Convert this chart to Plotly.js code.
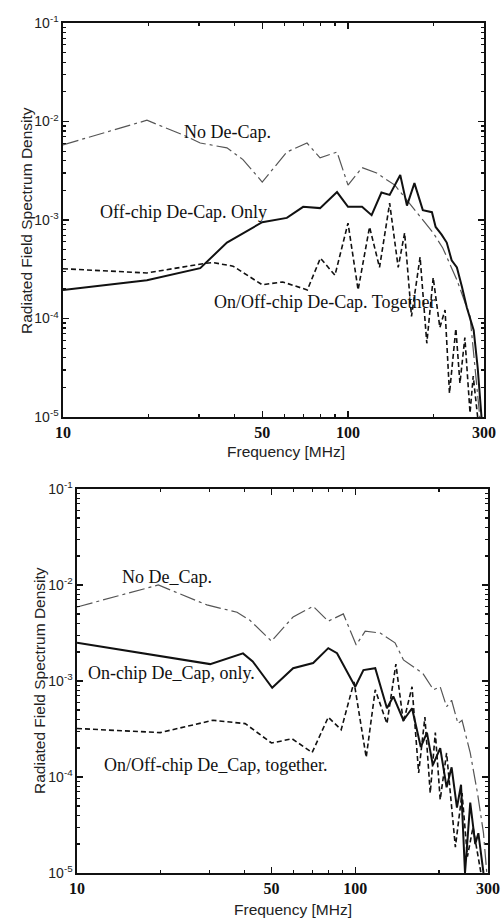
<!DOCTYPE html>
<html>
<head>
<meta charset="utf-8">
<script src="https://cdn.plot.ly/plotly-3.0.1.min.js"></script>
<style>
  html, body { margin: 0; padding: 0; background: #fff; }
  #chart { width: 502px; height: 920px; }
</style>
</head>
<body>
<div id="chart"></div>
<script>
// ---------- Top panel (Off-chip decap comparison) ----------
const topNoFreq  = [10, 19.7, 26.4, 30.3, 37.6, 42.8, 50, 61, 71.8, 79.8, 91.5, 100, 112, 126, 146, 175, 199, 215, 241, 268, 290];
const topNoVal   = [5.8e-3, 1.03e-2, 7.3e-3, 6.05e-3, 5.4e-3, 4.1e-3, 2.43e-3, 4.9e-3, 6.05e-3, 4.27e-3, 4.9e-3, 2.26e-3, 3.4e-3, 3.0e-3, 2.26e-3, 1.17e-3, 7.4e-4, 5.2e-4, 2.46e-4, 1.05e-4, 1e-5];

const topOffFreq = [10, 19.7, 30.3, 37.6, 50, 61, 69.6, 79.8, 91.5, 100, 112, 121, 131, 140, 152.5, 161, 171, 183, 197, 203, 213, 222, 231, 241, 251, 261, 276, 285, 294];
const topOffVal  = [1.95e-4, 2.45e-4, 3.24e-4, 5.9e-4, 9.5e-4, 1.05e-3, 1.36e-3, 1.32e-3, 1.92e-3, 1.36e-3, 1.36e-3, 1.12e-3, 1.9e-3, 1.8e-3, 2.86e-3, 1.4e-3, 2.37e-3, 1.26e-3, 1.2e-3, 8.5e-4, 7.1e-4, 5.9e-4, 3.9e-4, 3.3e-4, 2.1e-4, 1.3e-4, 7.6e-5, 3.2e-5, 1e-5];

const topBothFreq = [10, 19.7, 31, 33.5, 39.5, 50, 59, 72, 80, 90, 100, 108.5, 119, 129, 140, 150, 158, 167, 179, 189, 199, 210, 219, 227, 239, 247, 257, 268, 275, 285];
const topBothVal  = [3.2e-4, 2.9e-4, 3.6e-4, 3.7e-4, 3.4e-4, 2.2e-4, 2.35e-4, 1.95e-4, 4.1e-4, 2.75e-4, 9.3e-4, 1.95e-4, 8.5e-4, 3.3e-4, 1.48e-3, 3.3e-4, 7.4e-4, 1.05e-4, 4.2e-4, 5.6e-5, 2.6e-4, 8.1e-5, 1.22e-4, 1.74e-5, 7.9e-5, 2.2e-5, 6.4e-5, 1.1e-5, 2.6e-5, 1e-5];

// ---------- Bottom panel (On-chip decap comparison) ----------
const botNoFreq  = [10, 19.6, 29.3, 37.6, 41.8, 50, 59.8, 70.6, 80, 90.6, 100.8, 108.6, 123, 139, 149, 175, 191, 202, 213, 222, 234, 242, 259, 275, 289, 297];
const botNoVal   = [5.9e-3, 1.0e-2, 6.2e-3, 5.2e-3, 4.3e-3, 2.6e-3, 4.65e-3, 6.0e-3, 4.2e-3, 5.0e-3, 2.37e-3, 3.3e-3, 3.16e-3, 2.5e-3, 1.66e-3, 1.2e-3, 8.1e-4, 8.7e-4, 5.4e-4, 6.3e-4, 3.6e-4, 3.9e-4, 1.78e-4, 6.8e-5, 2.6e-5, 1e-5];

const botOnFreq  = [10, 30.1, 39.5, 42.8, 50.3, 59.8, 70.6, 80, 86, 100, 107, 118, 130, 137, 149, 160, 172, 181, 190, 202, 213, 222, 232, 240, 248, 259, 270, 277, 289];
const botOnVal   = [2.5e-3, 1.5e-3, 1.94e-3, 1.6e-3, 8.5e-4, 1.36e-3, 1.54e-3, 2.2e-3, 1.95e-3, 8.7e-4, 1.3e-3, 1.36e-3, 5.2e-4, 6.9e-4, 3.9e-4, 5.2e-4, 2.05e-4, 2.9e-4, 1.33e-4, 2.0e-4, 7.8e-5, 1.26e-4, 4.8e-5, 8.3e-5, 1e-5, 5.4e-5, 2.0e-5, 2.6e-5, 1e-5];

const botBothFreq = [10, 19.9, 30.8, 40.2, 50, 59.3, 70, 80, 89, 99, 109.5, 118, 130, 140, 149, 160, 169, 178, 186, 194, 202, 213, 229, 242, 253, 265, 283];
const botBothVal  = [3.2e-4, 2.9e-4, 3.9e-4, 3.6e-4, 2.26e-4, 2.5e-4, 1.8e-4, 4.2e-4, 3.1e-4, 9.8e-4, 1.6e-4, 8.1e-4, 3.6e-4, 1.5e-3, 3.7e-4, 8.7e-4, 1.1e-4, 4.2e-4, 6.8e-5, 2.9e-4, 5.8e-5, 1.78e-4, 1.86e-5, 6.8e-5, 1.48e-5, 3.0e-5, 1e-5];

// ---------- Tick labels and texts ----------
const xTickVals = [10, 50, 100, 300];
const xTickText = ['10', '50', '100', '300'];
const yTickVals = [1e-5, 1e-4, 1e-3, 1e-2, 1e-1];
const yTickText = ['10<sup>-5</sup>', '10<sup>-4</sup>', '10<sup>-3</sup>', '10<sup>-2</sup>', '10<sup>-1</sup>'];
const xMinorVals = [20, 30, 40, 60, 70, 80, 90, 200];
const yMinorVals = [];
[1e-5, 1e-4, 1e-3, 1e-2].forEach(d => { for (let k = 2; k <= 9; k++) yMinorVals.push(d * k); });
const xTitle = 'Frequency [MHz]';
const yTitle = 'Radiated Field Spectrum Density';

const W = 502, H = 920;
const px = x => x / W;
const py = y => 1 - y / H;

const styleNo   = {color: '#555', width: 1.2, dash: '16px,4px,3px,4px'};
const styleSol  = {color: '#111', width: 2};
const styleDot  = {color: '#111', width: 1.6, dash: '5px,3px'};

const traces = [
  {x: topNoFreq,   y: topNoVal,   xaxis: 'x',  yaxis: 'y',  mode: 'lines', line: styleNo},
  {x: topOffFreq,  y: topOffVal,  xaxis: 'x',  yaxis: 'y',  mode: 'lines', line: styleSol},
  {x: topBothFreq, y: topBothVal, xaxis: 'x',  yaxis: 'y',  mode: 'lines', line: styleDot},
  {x: botNoFreq,   y: botNoVal,   xaxis: 'x2', yaxis: 'y2', mode: 'lines', line: styleNo},
  {x: botOnFreq,   y: botOnVal,   xaxis: 'x2', yaxis: 'y2', mode: 'lines', line: styleSol},
  {x: botBothFreq, y: botBothVal, xaxis: 'x2', yaxis: 'y2', mode: 'lines', line: styleDot}
];

function xAxis(domain, anchor) {
  return {
    type: 'log', range: [1, Math.log10(300)], domain: domain, anchor: anchor,
    tickmode: 'array', tickvals: xTickVals, ticktext: xTickText,
    ticks: 'inside', ticklen: 6, tickwidth: 1.2, tickcolor: '#111',
    showline: true, linecolor: '#111', linewidth: 1.6, mirror: 'allticks',
    showgrid: false, zeroline: false,
    tickfont: {family: 'Liberation Serif, Times New Roman, serif', size: 16, color: '#111', weight: 'bold'},
    minor: {tickmode: 'array', tickvals: xMinorVals, ticks: 'inside', ticklen: 3, tickcolor: '#111', showgrid: false},
    automargin: false
  };
}
function yAxis(domain, anchor) {
  return {
    type: 'log', range: [-5, -1], domain: domain, anchor: anchor,
    tickmode: 'array', tickvals: yTickVals, ticktext: yTickText,
    ticks: 'inside', ticklen: 6, tickwidth: 1.2, tickcolor: '#111',
    showline: true, linecolor: '#111', linewidth: 1.6, mirror: 'allticks',
    showgrid: false, zeroline: false,
    tickfont: {family: 'Liberation Sans, Arial, sans-serif', size: 14, color: '#222'},
    minor: {tickmode: 'array', tickvals: yMinorVals, ticks: 'inside', ticklen: 3, tickcolor: '#111', showgrid: false},
    automargin: false
  };
}

const annFont = {family: 'Liberation Serif, Times New Roman, serif', size: 18, color: '#111'};
const titleFont = {family: 'Liberation Sans, Arial, sans-serif', size: 15.5, color: '#222'};
function ann(text, x, y) {
  return {text: text, xref: 'paper', yref: 'paper', x: px(x), y: py(y), xanchor: 'center', yanchor: 'middle', showarrow: false, font: annFont};
}
function titleAnn(text, x, y, angle) {
  return {text: text, xref: 'paper', yref: 'paper', x: px(x), y: py(y), xanchor: 'center', yanchor: 'middle', showarrow: false, textangle: angle, font: titleFont};
}

const layout = {
  width: W, height: H,
  margin: {l: 0, r: 0, t: 0, b: 0},
  paper_bgcolor: '#fff', plot_bgcolor: '#fff',
  showlegend: false,
  xaxis:  xAxis([px(63), px(484)], 'y'),
  yaxis:  yAxis([py(417), py(23)], 'x'),
  xaxis2: xAxis([px(77), px(488)], 'y2'),
  yaxis2: yAxis([py(873), py(489)], 'x2'),
  annotations: [
    ann('No De-Cap.', 227, 132),
    ann('Off-chip De-Cap. Only', 183, 212),
    ann('On/Off-chip De-Cap. Together', 325, 302),
    ann('No De_Cap.', 167, 577),
    ann('On-chip De_Cap, only.', 171, 673),
    ann('On/Off-chip De_Cap, together.', 216, 765),
    titleAnn(xTitle, 286, 451, 0),
    titleAnn(yTitle, 26, 221, -90),
    titleAnn(xTitle, 293, 909, 0),
    titleAnn(yTitle, 39, 681, -90)
  ]
};

Plotly.newPlot('chart', traces, layout, {displayModeBar: false, staticPlot: true});
</script>
</body>
</html>
